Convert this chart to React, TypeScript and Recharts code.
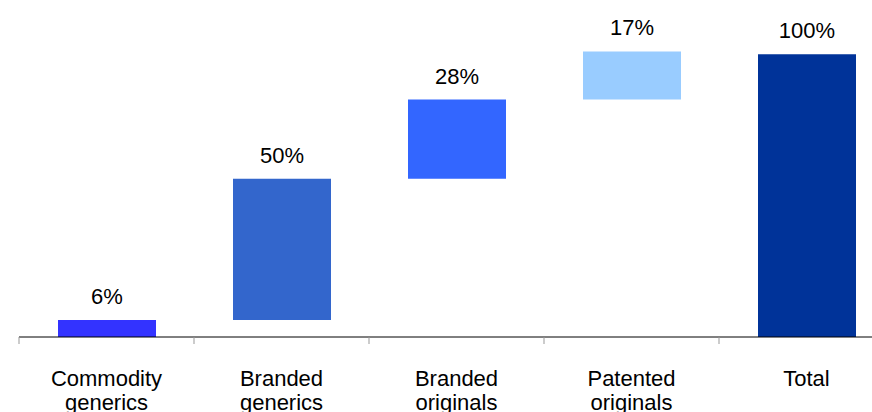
import { BarChart, Bar, XAxis, YAxis, Cell, LabelList } from 'recharts';

const categories = [
  'Commodity generics',
  'Branded generics',
  'Branded originals',
  'Patented originals',
  'Total',
];
const shares = [6, 50, 28, 17];
const total = 100;
const colors = ['#3333ff', '#3366cc', '#3366ff', '#99ccff', '#003399'];

const FONT = '"Liberation Sans", Arial, Helvetica, sans-serif';
const CHART_W = 900;
const PLOT_LEFT = 19;
const PLOT_RIGHT = 6;
const BAND = (CHART_W - PLOT_LEFT - PLOT_RIGHT) / categories.length;

let running = 0;
const data = categories.map((name, i) => {
  const isTotal = i === shares.length;
  const value = isTotal ? total : shares[i];
  const base = isTotal ? 0 : running;
  if (!isTotal) running += value;
  return { name, base, value };
});

function CategoryTick(props: any) {
  const { x, y, payload } = props;
  const lines = String(payload.value).split(' ');
  const left = x - BAND / 2;
  return (
    <g>
      <line x1={left} x2={left} y1={y} y2={y + 7} stroke="#999" strokeWidth={1} />
      <text x={x} y={y + 49} textAnchor="middle" fill="#000" fontSize={22} fontFamily={FONT}>
        {lines.map((l, i) => (
          <tspan key={i} x={x} dy={i === 0 ? 0 : 23.5}>
            {l}
          </tspan>
        ))}
      </text>
    </g>
  );
}

export default function App() {
  return (
    <div
      style={{
        position: 'fixed',
        top: 0,
        left: 0,
        width: 872,
        height: 412,
        overflow: 'hidden',
        background: '#fff',
      }}
    >
      <BarChart
        width={CHART_W}
        height={440}
        data={data}
        barSize={98}
        margin={{ top: 26, right: PLOT_RIGHT, left: PLOT_LEFT, bottom: 0 }}
      >
        <XAxis
          dataKey="name"
          height={103}
          interval={0}
          tickLine={false}
          tickSize={0}
          tickMargin={0}
          axisLine={{ stroke: '#000', strokeWidth: 1 }}
          tick={<CategoryTick />}
        />
        <YAxis hide domain={[0, 110]} />
        <Bar dataKey="base" stackId="w" fill="transparent" isAnimationActive={false} />
        <Bar dataKey="value" stackId="w" isAnimationActive={false}>
          {data.map((d, i) => (
            <Cell key={d.name} fill={colors[i]} />
          ))}
          <LabelList
            dataKey="value"
            position="top"
            offset={16}
            formatter={(v: any) => `${v}%`}
            style={{ fill: '#000', fontSize: 22, fontFamily: FONT }}
          />
        </Bar>
      </BarChart>
    </div>
  );
}
